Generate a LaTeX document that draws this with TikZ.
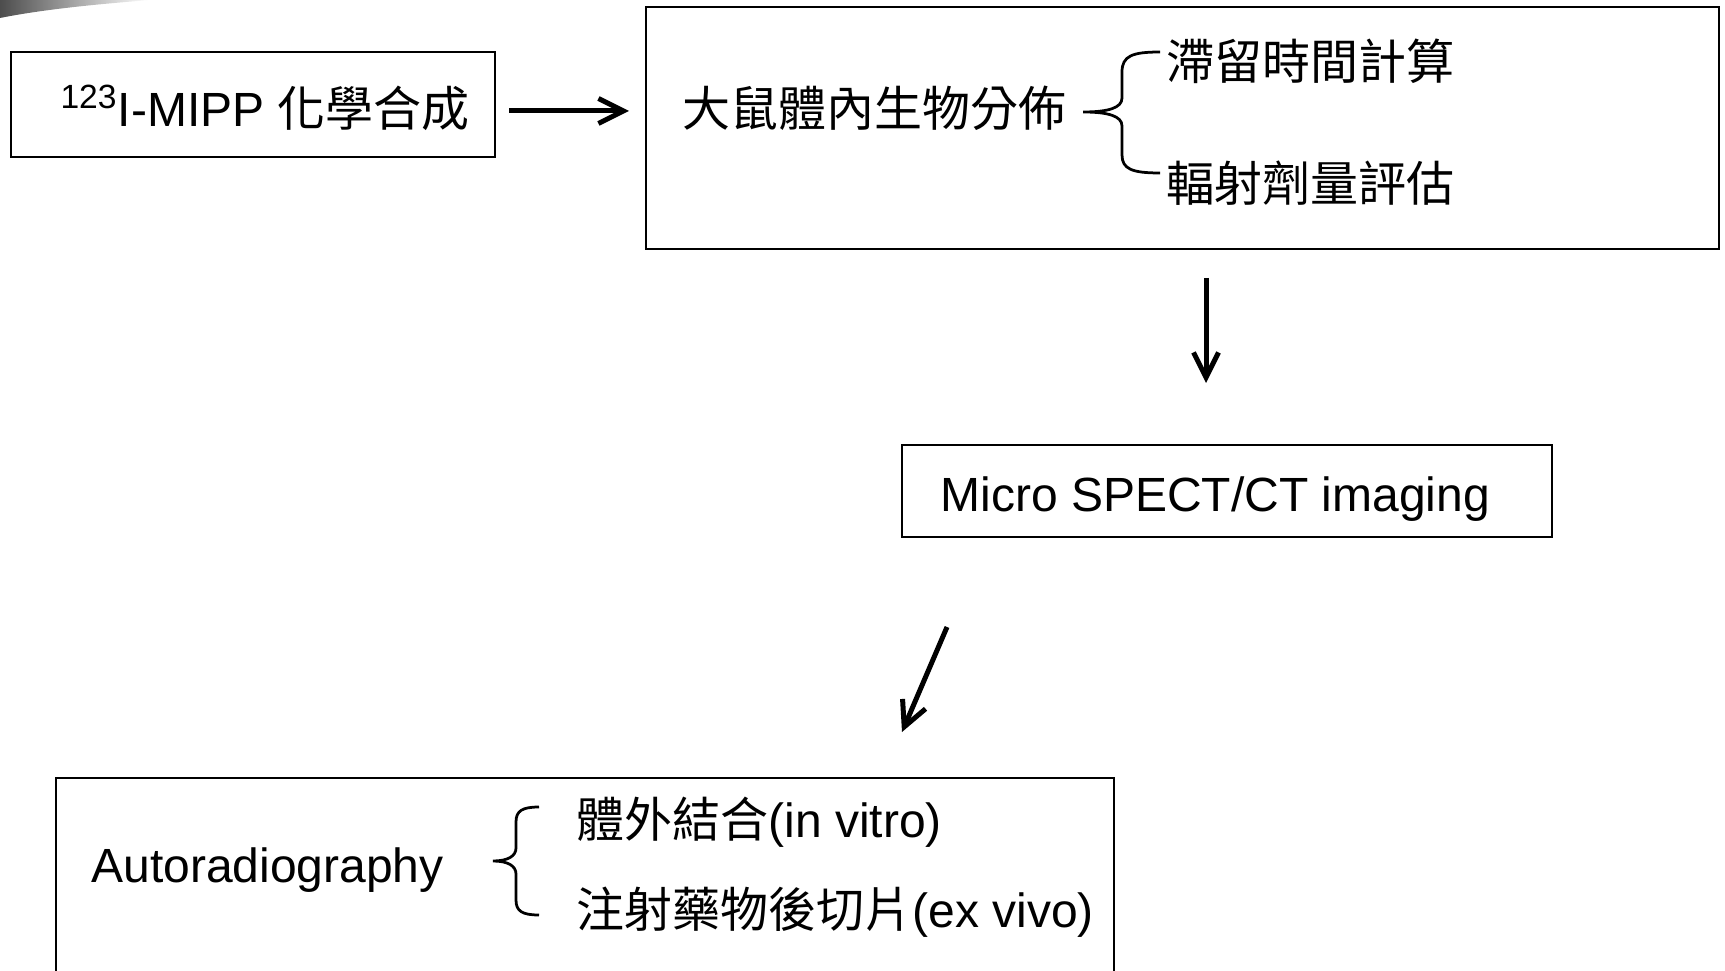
\documentclass[tikz,border=0pt]{standalone}
\usepackage{fontspec}
\setmainfont{Liberation Sans}
\newfontfamily\cjk{Noto Sans CJK TC}
\usetikzlibrary{arrows.meta,fit}
\begin{document}
\begin{tikzpicture}[x=0.4pt,y=-0.4pt,
  box/.style={draw, line width=0.9pt, inner sep=0pt},
  lbl/.style={inner sep=0pt, anchor=base west, font=\fontsize{19.2}{23}\selectfont},
  arr/.style={line width=2pt, -{Straight Barb[length=10pt,width=10pt,line width=2pt]}},
  brc/.style={line width=1.1pt}]
\useasboundingbox (0,0) rectangle (1725,971);
\clip (0,0) rectangle (1725,971);
% corner swoosh
\shade[left color=black!70, right color=white] (0,0) -- (150,0) .. controls (100,4) and (45,9) .. (0,18) -- cycle;
% boxes
\node[box, fit={(11,52)(495,157)}] (b1) {};
\node[box, fit={(646,7)(1719,249)}] (b2) {};
\node[box, fit={(902,445)(1552,537)}] (b3) {};
\node[box, fit={(56,778)(1114,1010)}] (b4) {};
% texts
\node[lbl] (t1) at (60,127) {\textsuperscript{123}I-MIPP {\cjk 化學合成}};
\node[lbl] (t2) at (682,127) {\cjk 大鼠體內生物分佈};
\node[lbl] (t3) at (1166,80) {\cjk 滯留時間計算};
\node[lbl] (t4) at (1166,202) {\cjk 輻射劑量評估};
\node[lbl] (t5) at (940,511) {Micro SPECT/CT imaging};
\node[lbl] (t6) at (91,882) {Autoradiography};
\node[lbl] (t7) at (576,837) {{\cjk 體外結合}(in vitro)};
\node[lbl] (t8) at (576,927) {{\cjk 注射藥物後切片}(ex vivo)};
% braces
\draw[brc] (1160,52) .. controls (1132,52) and (1122,56) .. (1122,72) -- (1122,98)
  .. controls (1122,108) and (1108,112) .. (1083,112)
  .. controls (1108,112) and (1122,116) .. (1122,126) -- (1122,155)
  .. controls (1122,169) and (1132,173) .. (1160,173);
\draw[brc] (539,807) .. controls (522,807) and (516,811) .. (516,822) -- (516,848)
  .. controls (516,856) and (508,861) .. (493,861)
  .. controls (508,861) and (516,866) .. (516,874) -- (516,900)
  .. controls (516,911) and (522,915) .. (539,915);
% arrows
\coordinate (a1s) at (509,111);
\coordinate (a1e) at (629,111);
\coordinate (a2s) at (1206,278);
\coordinate (a2e) at (1206,383);
\coordinate (a3s) at (947,627);
\coordinate (a3e) at (902,732);
\draw[arr] (a1s) -- (a1e);
\draw[arr] (a2s) -- (a2e);
\draw[arr] (a3s) -- (a3e);
\end{tikzpicture}
\end{document}
